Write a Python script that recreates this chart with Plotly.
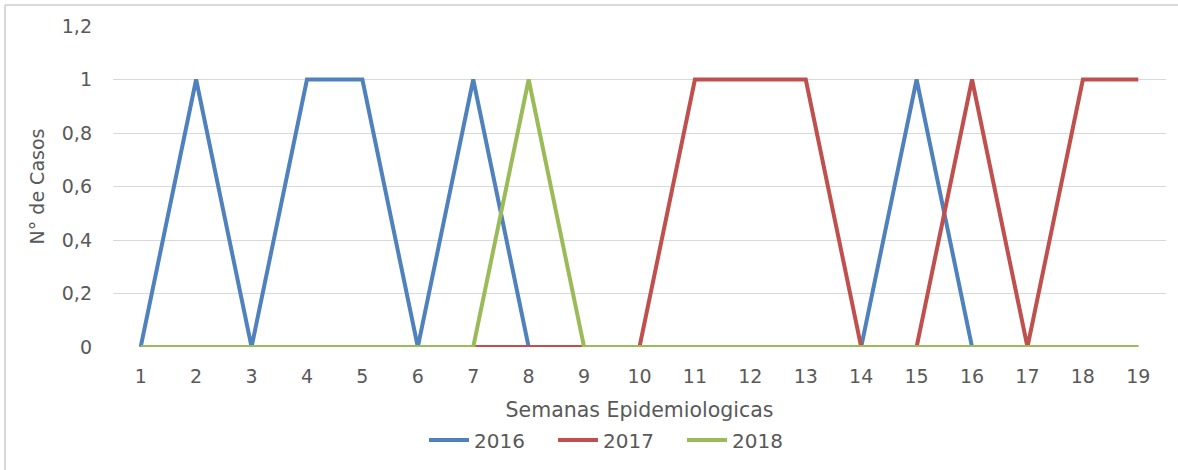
import plotly.graph_objects as go

semanas = list(range(1, 20))
casos_2016 = [0, 1, 0, 1, 1, 0, 1, 0, 0, 0, 0, 0, 0, 0, 1, 0, 0, 0, 0]
casos_2017 = [0, 0, 0, 0, 0, 0, 0, 0, 0, 0, 1, 1, 1, 0, 0, 1, 0, 1, 1]
casos_2018 = [0, 0, 0, 0, 0, 0, 0, 1, 0, 0, 0, 0, 0, 0, 0, 0, 0, 0, 0]
y_ticks = [0, 0.2, 0.4, 0.6, 0.8, 1, 1.2]
y_tick_labels = ["0", "0,2", "0,4", "0,6", "0,8", "1", "1,2"]

FONT = "DejaVu Sans"
GREY = "#595959"
FS = 19

fig = go.Figure()
for name, vals, col in [("2016", casos_2016, "#4F81BD"),
                        ("2017", casos_2017, "#C0504D"),
                        ("2018", casos_2018, "#9BBB59")]:
    fig.add_trace(go.Scatter(x=semanas, y=vals, mode="lines", name=name,
                             line=dict(color=col, width=4)))

L, R, T, B = 113, 12, 26, 122
W, H = 1178, 470
pw, ph = W - L - R, H - T - B

def px_x(px):
    return (px - L) / pw

def px_y(py):
    return (H - B - py) / ph

fig.update_layout(
    width=W, height=H,
    margin=dict(l=L, r=R, t=T, b=B),
    paper_bgcolor="white", plot_bgcolor="white",
    font=dict(family=FONT, color=GREY, size=FS),
    showlegend=True,
    legend=dict(orientation="h", x=px_x(424), xanchor="left",
                y=px_y(440), yanchor="middle",
                font=dict(size=20, color=GREY), itemwidth=40,
                entrywidth=74, traceorder="normal"),
    xaxis=dict(range=[0.5, 19.5], tickmode="array", tickvals=semanas,
               ticktext=[str(s) for s in semanas], showgrid=False,
               zeroline=False, showline=False, ticks="",
               ticklabelstandoff=16,
               tickfont=dict(size=FS, color=GREY),
               title=dict(text="Semanas Epidemiologicas", standoff=16,
                          font=dict(size=20.5, color=GREY))),
    yaxis=dict(range=[0, 1.2], tickmode="array", tickvals=y_ticks,
               ticktext=y_tick_labels, showgrid=True, gridcolor="#D9D9D9",
               gridwidth=1, zeroline=False, showline=False, ticks="",
               ticklabelstandoff=20,
               tickfont=dict(size=FS, color=GREY),
               title=dict(text="N° de Casos", standoff=12,
                          font=dict(size=FS, color=GREY))),
)

fx = px_x(5)
fy = px_y(5)
fig.add_shape(type="line", xref="paper", yref="paper", x0=fx, x1=px_x(1180),
              y0=fy, y1=fy, line=dict(color="#D9D9D9", width=2), layer="below")
fig.add_shape(type="line", xref="paper", yref="paper", x0=fx, x1=fx,
              y0=fy, y1=px_y(472), line=dict(color="#D9D9D9", width=2), layer="below")

fig.write_html("out.html", config={"displayModeBar": False},
               post_script="document.body.style.margin='0px';")
